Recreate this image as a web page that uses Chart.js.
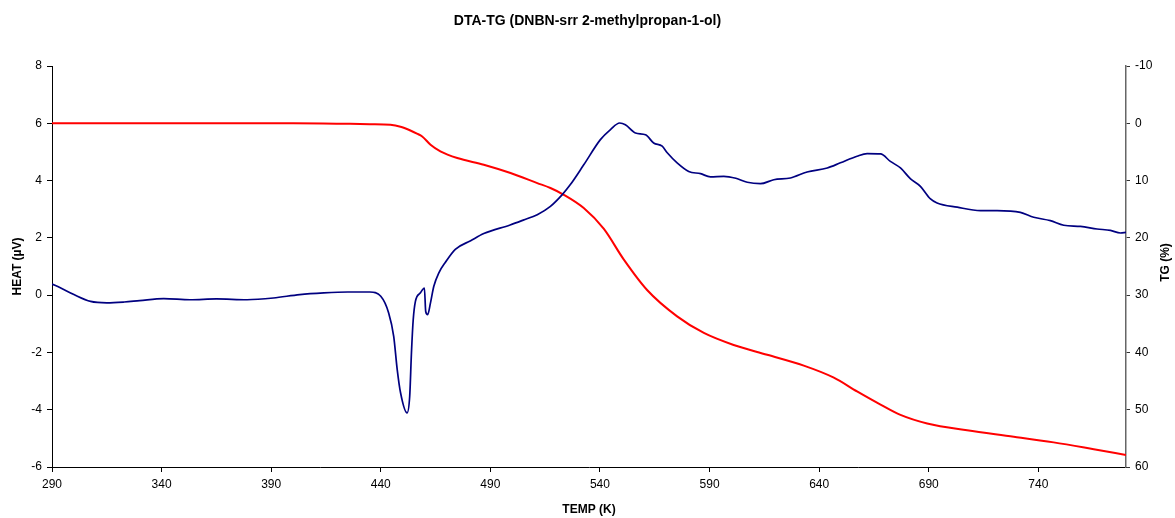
<!DOCTYPE html>
<html>
<head>
<meta charset="utf-8">
<title>DTA-TG</title>
<script src="https://cdn.jsdelivr.net/npm/chart.js@4.4.1/dist/chart.umd.min.js"></script>
<style>
  html, body { margin: 0; padding: 0; background: #fff; }
  #wrap { width: 1175px; height: 518px; position: relative; }
</style>
</head>
<body>
<div id="wrap"><canvas id="dtaChart"></canvas></div>
<script>
// DTA curve (left axis, µV)
const dtaTemp = [290, 294, 300, 307.6, 315, 323, 330, 341, 353, 365, 379, 391, 403, 414, 425, 435,
  440, 443.6, 445.9, 447.5, 449, 452, 453.2, 454, 454.8, 455.8, 458.1, 459.9, 460.5, 461.4, 462.7,
  464.2, 466.5, 469.5, 474, 481, 487, 499, 505, 511.4, 517.4, 522.8, 526.5, 532.6, 540.2, 544.8,
  549, 551.6, 556.2, 560.8, 564.5, 568.4, 570.7, 575.2, 580.5, 585.9, 590.4, 596.5, 602, 607.2,
  613.2, 619.3, 626.9, 634.5, 643.7, 649.7, 657.3, 661.9, 668, 672.5, 677.1, 681.7, 686.2, 690.8,
  693.8, 703, 713.6, 721.2, 731.8, 737.9, 745.5, 751.6, 759.2, 766.8, 772.9, 777.5, 780];
const dtaHeat = [0.39, 0.25, 0.02, -0.22, -0.27, -0.24, -0.19, -0.12, -0.16, -0.13, -0.16, -0.10, 0.02, 0.08, 0.11, 0.11,
  -0.04, -0.62, -1.44, -2.6, -3.4, -4.11, -3.53, -2.0, -0.86, -0.22, 0.08, 0.25, -0.57, -0.68, -0.26,
  0.31, 0.78, 1.15, 1.6, 1.9, 2.15, 2.45, 2.62, 2.81, 3.10, 3.51, 3.86, 4.55, 5.43, 5.78,
  6.01, 5.95, 5.66, 5.6, 5.31, 5.2, 4.97, 4.62, 4.32, 4.24, 4.13, 4.15, 4.08, 3.94,
  3.89, 4.03, 4.09, 4.3, 4.44, 4.62, 4.85, 4.94, 4.93, 4.67, 4.44, 4.06, 3.8, 3.36,
  3.22, 3.07, 2.95, 2.95, 2.89, 2.72, 2.6, 2.44, 2.4, 2.31, 2.26, 2.17, 2.19];

// TG curve (right axis, %)
const tgTemp = [290, 350, 400, 426, 435, 444.4, 449, 453.5, 456.5, 458.9, 462.7, 467.2, 474.9, 487,
  499.2, 511.4, 517.4, 523.5, 532.6, 541.7, 550.9, 561.5, 575.2, 587.4, 601, 616.3, 633, 646.7,
  657.3, 668, 677.1, 689.3, 707.5, 728.8, 747, 765.3, 780];
const tgMass = [0, 0, 0, 0.1, 0.15, 0.26, 0.6, 1.26, 1.8, 2.3, 3.75, 4.9, 6.07, 7.24,
  8.69, 10.44, 11.3, 12.48, 14.8, 18.4, 23.8, 29.1, 33.7, 36.6, 38.7, 40.4, 42.3, 44.4,
  46.8, 49.1, 50.9, 52.4, 53.6, 54.7, 55.7, 56.9, 57.9];

// tick labels
const tempTicks = [290, 340, 390, 440, 490, 540, 590, 640, 690, 740];

const fontName = "'Liberation Sans', Arial, sans-serif";

function toPoints(xs, ys) {
  return xs.map(function (x, i) { return { x: x, y: ys[i] }; });
}

// right axis title reads bottom-to-top like the left one
const rightTitle = {
  id: 'rightTitle',
  afterDraw: function (chart) {
    const ctx = chart.ctx;
    const area = chart.chartArea;
    ctx.save();
    ctx.translate(1166, (area.top + area.bottom) / 2 - 4);
    ctx.rotate(-Math.PI / 2);
    ctx.font = 'bold 12px ' + fontName;
    ctx.fillStyle = '#000';
    ctx.textAlign = 'center';
    ctx.textBaseline = 'middle';
    ctx.fillText('TG (%)', 0, 0);
    ctx.restore();
  }
};

const ctx = document.getElementById('dtaChart').getContext('2d');
new Chart(ctx, {
  type: 'scatter',
  data: {
    datasets: [
      {
        label: 'DTA',
        data: toPoints(dtaTemp, dtaHeat),
        showLine: true,
        borderColor: '#000080',
        borderWidth: 1.7,
        pointRadius: 0,
        cubicInterpolationMode: 'monotone',
        yAxisID: 'y'
      },
      {
        label: 'TG',
        data: toPoints(tgTemp, tgMass),
        showLine: true,
        borderColor: '#ff0000',
        borderWidth: 2,
        pointRadius: 0,
        cubicInterpolationMode: 'monotone',
        yAxisID: 'y1'
      }
    ]
  },
  options: {
    responsive: true,
    maintainAspectRatio: false,
    animation: false,
    layout: { padding: 0 },
    plugins: {
      legend: { display: false },
      tooltip: { enabled: false },
      title: {
        display: true,
        text: 'DTA-TG (DNBN-srr 2-methylpropan-1-ol)',
        color: '#000',
        font: { family: fontName, size: 14, weight: 'bold' },
        padding: { top: 12.6, bottom: 36.6 }
      }
    },
    scales: {
      x: {
        type: 'linear',
        min: 290,
        max: 780,
        afterBuildTicks: function (scale) {
          scale.ticks = tempTicks.map(function (v) { return { value: v }; });
        },
        afterFit: function (scale) { scale.height = 51; },
        border: { display: true, color: '#000', width: 1 },
        grid: { display: true, drawOnChartArea: false, drawTicks: true, tickLength: 5, color: '#000' },
        ticks: {
          color: '#000',
          padding: 5,
          maxRotation: 0,
          font: { family: fontName, size: 12 }
        },
        title: {
          display: true,
          text: 'TEMP (K)',
          color: '#000',
          padding: { top: 0, bottom: 1 },
          font: { family: fontName, size: 12, weight: 'bold' }
        }
      },
      y: {
        type: 'linear',
        position: 'left',
        min: -6,
        max: 8,
        afterFit: function (scale) { scale.width = 52; },
        border: { display: true, color: '#000', width: 1 },
        grid: { display: true, drawOnChartArea: false, drawTicks: true, tickLength: 5, color: '#000' },
        ticks: {
          stepSize: 2,
          color: '#000',
          padding: 5,
          font: { family: fontName, size: 12 }
        },
        title: {
          display: true,
          text: 'HEAT (µV)',
          color: '#000',
          padding: { top: 10, bottom: 0 },
          font: { family: fontName, size: 12, weight: 'bold' }
        }
      },
      y1: {
        type: 'linear',
        position: 'right',
        reverse: true,
        min: -10,
        max: 60,
        afterFit: function (scale) { scale.width = 49; },
        border: { display: true, color: '#666', width: 1.5 },
        grid: { display: true, drawOnChartArea: false, drawTicks: true, tickLength: 4, color: '#333' },
        ticks: {
          stepSize: 10,
          color: '#000',
          padding: 5,
          font: { family: fontName, size: 12 }
        },
        title: { display: false }
      }
    }
  },
  plugins: [rightTitle]
});
</script>
</body>
</html>
